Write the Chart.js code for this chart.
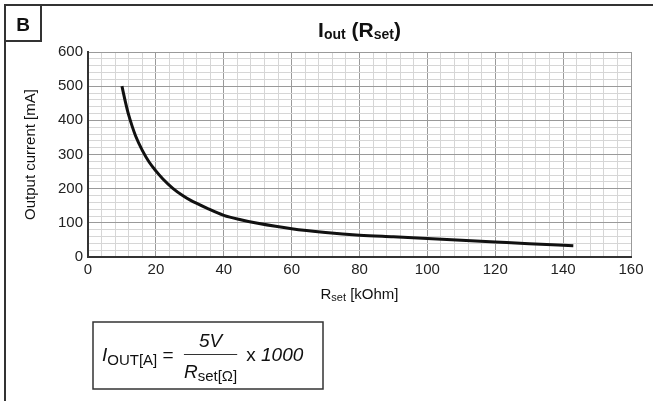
<!DOCTYPE html>
<html>
<head>
<meta charset="utf-8">
<script src="https://cdn.jsdelivr.net/npm/chart.js@4"></script>
<style>
  html, body { margin: 0; padding: 0; background: #fff; }
  #wrap { width: 653px; height: 401px; }
</style>
</head>
<body>
<div id="wrap"><canvas id="ioutChart" width="653" height="401"></canvas></div>
<script>
// values
const rsetKOhm = [10, 11, 12, 13, 14, 16, 18, 20, 22, 25, 28, 30, 35, 40, 45, 50, 60, 70, 80, 90, 100, 110, 120, 130, 143];
const ioutMA = [500, 455, 415, 383, 355, 312, 278, 252, 229, 201, 179, 167, 143, 122, 109, 99, 83, 72, 64, 59, 54, 49, 44, 39, 33];
const xMajor = [0, 20, 40, 60, 80, 100, 120, 140, 160];
const yMajor = [0, 100, 200, 300, 400, 500, 600];

const FONT = "'Liberation Sans', Arial, Helvetica, sans-serif";
const ctx = document.getElementById("ioutChart");

// draws text pieces one after another, returns total width
function runs(c, x, y, parts, measureOnly) {
  let w = 0;
  parts.forEach(function (p) {
    c.font = p.f;
    if (!measureOnly) c.fillText(p.t, x + w, y + (p.dy || 0));
    w += c.measureText(p.t).width;
  });
  return w;
}

const textPlugin = {
  id: "texts",
  afterDraw(chart) {
    const c = chart.ctx;
    const area = chart.chartArea;
    const mid = (area.left + area.right) / 2;
    c.save();
    c.fillStyle = "#111";
    c.strokeStyle = "#333";
    c.textBaseline = "alphabetic";
    c.textAlign = "left";

    // outer frame (top + left) and the "B" box
    c.lineWidth = 2;
    c.beginPath();
    c.moveTo(5, 401);
    c.lineTo(5, 5);
    c.lineTo(653, 5);
    c.stroke();
    c.strokeRect(5, 5, 36, 36);
    c.font = "bold 19px " + FONT;
    c.textAlign = "center";
    c.fillText("B", 23, 31);
    c.textAlign = "left";

    // title
    const title = [
      { t: "I", f: "bold 21px " + FONT },
      { t: "out", f: "bold 14px " + FONT, dy: 2 },
      { t: " (R", f: "bold 21px " + FONT },
      { t: "set", f: "bold 14px " + FONT, dy: 2 },
      { t: ")", f: "bold 21px " + FONT }
    ];
    let w = runs(c, 0, 0, title, true);
    runs(c, mid - w / 2, 37, title);

    // x title
    const xt = [
      { t: "R", f: "15px " + FONT },
      { t: "set", f: "11px " + FONT, dy: 2 },
      { t: " [kOhm]", f: "15px " + FONT }
    ];
    w = runs(c, 0, 0, xt, true);
    runs(c, mid - w / 2, 299, xt);

    // y title
    c.save();
    c.translate(31, (area.top + area.bottom) / 2);
    c.rotate(-Math.PI / 2);
    c.font = "15px " + FONT;
    c.textAlign = "center";
    c.textBaseline = "middle";
    c.fillText("Output current [mA]", 0, 0);
    c.restore();

    // formula box
    c.lineWidth = 1.5;
    c.strokeRect(93, 322, 230, 67);
    const left = [
      { t: "I", f: "italic 19px " + FONT },
      { t: "OUT[A]", f: "15px " + FONT, dy: 4 },
      { t: " = ", f: "19px " + FONT }
    ];
    w = runs(c, 102, 361, left);
    const fx = 102 + w + 5;
    const num = [{ t: "5V", f: "italic 19px " + FONT }];
    const den = [
      { t: "R", f: "italic 19px " + FONT },
      { t: "set[\u03a9]", f: "15px " + FONT, dy: 3 }
    ];
    const nw = runs(c, 0, 0, num, true);
    const dw = runs(c, 0, 0, den, true);
    const fw = Math.max(nw, dw);
    runs(c, fx + (fw - nw) / 2, 347, num);
    runs(c, fx + (fw - dw) / 2, 378, den);
    c.lineWidth = 1;
    c.beginPath();
    c.moveTo(fx, 354.5);
    c.lineTo(fx + fw, 354.5);
    c.stroke();
    runs(c, fx + fw + 9, 361, [
      { t: "x ", f: "19px " + FONT },
      { t: "1000", f: "italic 19px " + FONT }
    ]);
    c.restore();
  }
};

new Chart(ctx, {
  type: "scatter",
  data: {
    datasets: [
      {
        data: rsetKOhm.map((r, i) => ({ x: r, y: ioutMA[i] })),
        showLine: true,
        borderColor: "#111",
        borderWidth: 3,
        pointRadius: 0,
        cubicInterpolationMode: "monotone",
      },
    ],
  },
  options: {
    responsive: false,
    animation: false,
    layout: { padding: { left: 0, top: 52, right: 22, bottom: 114 } },
    plugins: { legend: { display: false }, tooltip: { enabled: false } },
    scales: {
      x: {
        type: "linear",
        min: 0,
        max: 160,
        afterFit: (s) => { s.height = 30; },
        ticks: {
          stepSize: 4,
          autoSkip: false,
          maxRotation: 0,
          padding: 4,
          color: "#222",
          font: { family: FONT, size: 15 },
          callback: (v) => (xMajor.includes(v) ? v : ""),
        },
        grid: {
          drawTicks: false,
          color: (c) => (c.tick && xMajor.includes(c.tick.value) ? "#9a9a9a" : "#d6d6d6"),
        },
        border: { color: "#333", width: 2 },
      },
      y: {
        min: 0,
        max: 600,
        afterFit: (s) => { s.width = 88; },
        ticks: {
          stepSize: 20,
          autoSkip: false,
          padding: 5,
          color: "#222",
          font: { family: FONT, size: 15 },
          callback: (v) => (yMajor.includes(v) ? v : ""),
        },
        grid: {
          drawTicks: false,
          color: (c) => (c.tick && yMajor.includes(c.tick.value) ? "#9a9a9a" : "#d6d6d6"),
        },
        border: { color: "#333", width: 2 },
      },
    },
  },
  plugins: [textPlugin],
});
</script>
</body>
</html>
